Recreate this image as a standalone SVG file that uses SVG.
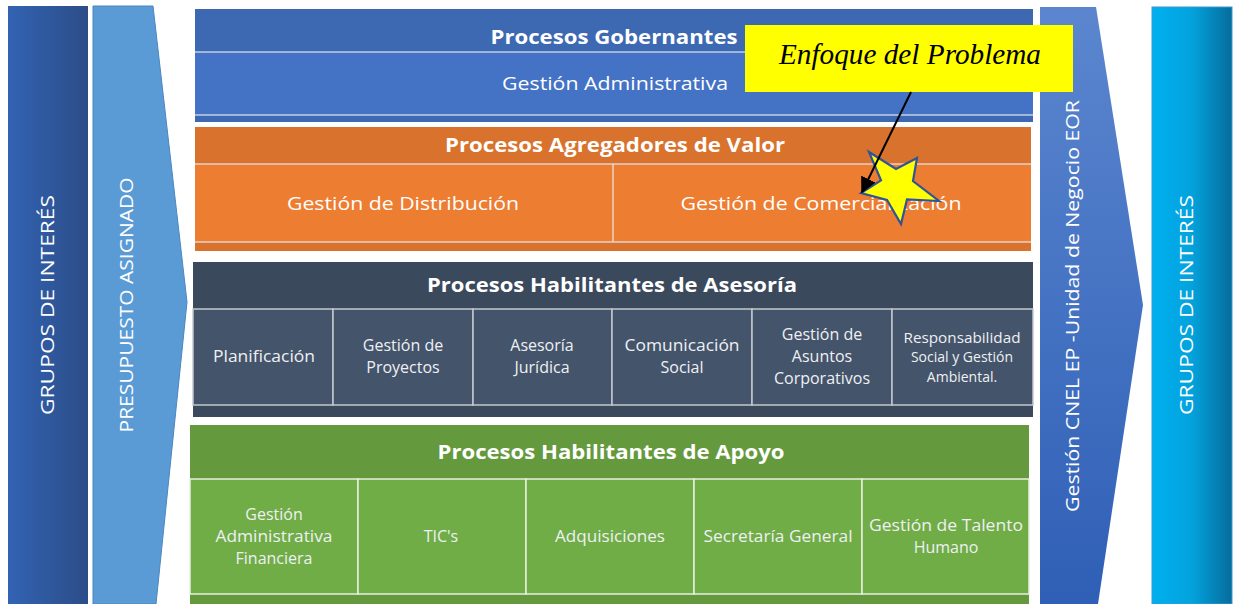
<svg xmlns="http://www.w3.org/2000/svg" width="1237" height="604" viewBox="0 0 1237 604">
<defs>
<linearGradient id="gLeft" x1="0" y1="0" x2="1" y2="0"><stop offset="0" stop-color="#3263b3"/><stop offset="1" stop-color="#2c4d88"/></linearGradient>
<linearGradient id="gRight" x1="0" y1="0" x2="1" y2="0"><stop offset="0" stop-color="#00b0f0"/><stop offset="0.5" stop-color="#03a2dc"/><stop offset="1" stop-color="#066c9c"/></linearGradient>
<linearGradient id="gArrowR" x1="0" y1="0" x2="0" y2="1"><stop offset="0" stop-color="#5b86cf"/><stop offset="1" stop-color="#2f5fb6"/></linearGradient>
<marker id="ah" viewBox="0 0 10 10" refX="9" refY="5" markerWidth="8" markerHeight="8" markerUnits="strokeWidth" orient="auto"><path d="M0,0 L10,5 L0,10 z" fill="#000"/></marker>
</defs>
<style>
.t{font-family:"Open Sans","Noto Sans","Liberation Sans",sans-serif;fill:#ffffff;text-anchor:middle}
.b{font-weight:bold;font-size:20px}
.r{font-size:18px}
.c{font-size:16px;fill:#eef0f3}
.s{font-size:14px;fill:#eef0f3}
.sep{stroke:#e4e9f2;stroke-width:1.5;stroke-opacity:0.8;fill:none}
.cell{stroke:#c3c7ce;stroke-width:1.5}
.gcell{stroke:#e8f0e0;stroke-width:1.5}
.v{font-size:18px}
</style>
<rect width="1237" height="604" fill="#ffffff"/>

<g id="grupos-izq">
<rect x="8" y="6" width="80" height="598" fill="url(#gLeft)"/>
<text class="t v" transform="translate(54,305) rotate(-90)" textLength="220" lengthAdjust="spacingAndGlyphs" fill="#e6ecf6">GRUPOS DE INTERÉS</text>
</g>

<g id="presupuesto">
<polygon points="93,6 153,6 187,302 156,604 93,604" fill="#5b9bd5" stroke="#4a86c0" stroke-width="1"/>
<text class="t v" transform="translate(133,305) rotate(-90)" textLength="255" lengthAdjust="spacingAndGlyphs">PRESUPUESTO ASIGNADO</text>
</g>

<g id="gobernantes">
<rect x="195" y="9" width="838" height="113" fill="#3d68b2"/>
<rect x="195" y="52" width="838" height="63" fill="#4472c4"/>
<line class="sep" x1="195" y1="52" x2="1033" y2="52"/>
<line class="sep" x1="195" y1="115" x2="1033" y2="115"/>
<text class="t b" x="614" y="44" textLength="247" lengthAdjust="spacingAndGlyphs">Procesos Gobernantes</text>
<text class="t r" x="615" y="90" textLength="226" lengthAdjust="spacingAndGlyphs">Gestión Administrativa</text>
</g>

<g id="agregadores">
<rect x="195" y="127" width="836" height="124" fill="#d8722d"/>
<rect x="195" y="164" width="836" height="78" fill="#ed7d31"/>
<line class="sep" x1="195" y1="164" x2="1031" y2="164"/>
<line class="sep" x1="195" y1="242" x2="1031" y2="242"/>
<line class="sep" x1="613" y1="164" x2="613" y2="242"/>
<text class="t b" x="615" y="152" textLength="340" lengthAdjust="spacingAndGlyphs">Procesos Agregadores de Valor</text>
<text class="t r" x="403" y="210" textLength="232" lengthAdjust="spacingAndGlyphs">Gestión de Distribución</text>
<text class="t r" x="821" y="210" textLength="281" lengthAdjust="spacingAndGlyphs">Gestión de Comercialización</text>
</g>

<g id="asesoria">
<rect x="193" y="262" width="840" height="155" fill="#3b495d"/>
<rect class="cell" x="193" y="309" width="140" height="96" fill="#44546a"/>
<rect class="cell" x="333" y="309" width="140" height="96" fill="#44546a"/>
<rect class="cell" x="473" y="309" width="139" height="96" fill="#44546a"/>
<rect class="cell" x="612" y="309" width="140" height="96" fill="#44546a"/>
<rect class="cell" x="752" y="309" width="140" height="96" fill="#44546a"/>
<rect class="cell" x="892" y="309" width="141" height="96" fill="#44546a"/>
<text class="t b" x="612" y="292" textLength="370" lengthAdjust="spacingAndGlyphs">Procesos Habilitantes de Asesoría</text>
<text class="t c" x="264" y="362" textLength="102" lengthAdjust="spacingAndGlyphs">Planificación</text>
<text class="t c" x="403" y="351">Gestión de</text>
<text class="t c" x="403" y="373">Proyectos</text>
<text class="t c" x="542" y="351">Asesoría</text>
<text class="t c" x="542" y="373">Jurídica</text>
<text class="t c" x="682" y="351" textLength="115" lengthAdjust="spacingAndGlyphs">Comunicación</text>
<text class="t c" x="682" y="373">Social</text>
<text class="t c" x="822" y="340">Gestión de</text>
<text class="t c" x="822" y="362">Asuntos</text>
<text class="t c" x="822" y="384">Corporativos</text>
<text class="t s" x="962" y="343" textLength="117" lengthAdjust="spacingAndGlyphs">Responsabilidad</text>
<text class="t s" x="962" y="362">Social y Gestión</text>
<text class="t s" x="962" y="382">Ambiental.</text>
</g>

<g id="apoyo">
<rect x="190" y="425" width="839" height="179" fill="#65993e"/>
<rect class="gcell" x="190" y="479" width="168" height="115" fill="#70ad47"/>
<rect class="gcell" x="358" y="479" width="168" height="115" fill="#70ad47"/>
<rect class="gcell" x="526" y="479" width="168" height="115" fill="#70ad47"/>
<rect class="gcell" x="694" y="479" width="168" height="115" fill="#70ad47"/>
<rect class="gcell" x="862" y="479" width="167" height="115" fill="#70ad47"/>
<text class="t b" x="611" y="459" textLength="347" lengthAdjust="spacingAndGlyphs">Procesos Habilitantes de Apoyo</text>
<text class="t c" x="274" y="520">Gestión</text>
<text class="t c" x="274" y="542" textLength="117" lengthAdjust="spacingAndGlyphs">Administrativa</text>
<text class="t c" x="274" y="564">Financiera</text>
<text class="t c" x="441" y="542">TIC's</text>
<text class="t c" x="610" y="542" textLength="110" lengthAdjust="spacingAndGlyphs">Adquisiciones</text>
<text class="t c" x="778" y="542" textLength="149" lengthAdjust="spacingAndGlyphs">Secretaría General</text>
<text class="t c" x="946" y="531" textLength="154" lengthAdjust="spacingAndGlyphs">Gestión de Talento</text>
<text class="t c" x="946" y="553">Humano</text>
</g>

<g id="cnel">
<polygon points="1040,7 1096,7 1143,305 1098,604 1040,604" fill="url(#gArrowR)"/>
<text class="t v" transform="translate(1079,306) rotate(-90)" textLength="412" lengthAdjust="spacingAndGlyphs" fill="#e9eef8">Gestión CNEL EP -Unidad de Negocio EOR</text>
</g>

<g id="grupos-der">
<rect x="1152" y="7" width="80" height="597" fill="url(#gRight)" stroke="#3a9ad0" stroke-width="1"/>
<text class="t v" transform="translate(1193,305) rotate(-90)" textLength="220" lengthAdjust="spacingAndGlyphs" fill="#e6f4fb">GRUPOS DE INTERÉS</text>
</g>

<g id="estrella">
<polygon points="869,152 896,169 917,158 913,181 939,201 907,199.5 901,224 887,200 861,193 881,180.4" fill="#ffff00" stroke="#2f5597" stroke-width="2.2" stroke-linejoin="miter"/>
</g>

<g id="enfoque">
<rect x="745" y="25" width="328" height="67" fill="#ffff00"/>
<text x="910" y="64" font-family="'Liberation Serif','DejaVu Serif',serif" font-style="italic" font-size="29" text-anchor="middle" fill="#000" textLength="262" lengthAdjust="spacingAndGlyphs">Enfoque del Problema</text>
</g>

<g id="connectors">
<line x1="911" y1="92" x2="862" y2="192" stroke="#000" stroke-width="2" marker-end="url(#ah)"/>
</g>
</svg>
